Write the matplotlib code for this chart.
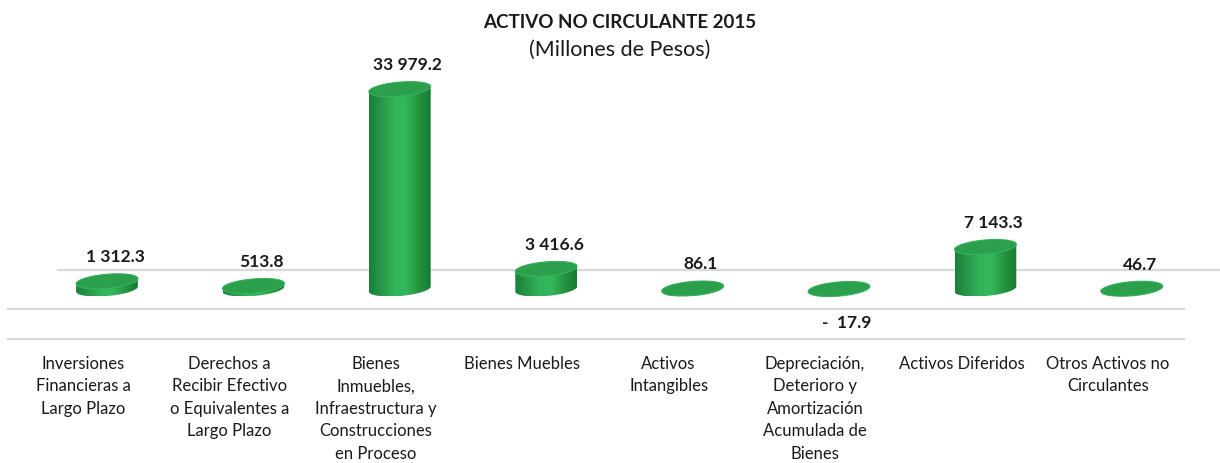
import numpy as np
import matplotlib
matplotlib.use("Agg")
import matplotlib.pyplot as plt
from matplotlib.patches import Polygon
from matplotlib.colors import LinearSegmentedColormap

plt.rcParams['font.family'] = ['Lato', 'DejaVu Sans']

# ---------------- data ----------------
categories = [
    "Inversiones\nFinancieras a\nLargo Plazo",
    "Derechos a\nRecibir Efectivo\no Equivalentes a\nLargo Plazo",
    "Bienes\nInmuebles,\nInfraestructura y\nConstrucciones\nen Proceso",
    "Bienes Muebles",
    "Activos\nIntangibles",
    "Depreciación,\nDeterioro y\nAmortización\nAcumulada de\nBienes",
    "Activos Diferidos",
    "Otros Activos no\nCirculantes",
]
values = [1312.3, 513.8, 33979.2, 3416.6, 86.1, -17.9, 7143.3, 46.7]
value_labels = ["1 312.3", "513.8", "33 979.2", "3 416.6", "86.1", "-  17.9", "7 143.3", "46.7"]
title = "ACTIVO NO CIRCULANTE 2015"
subtitle = "(Millones de Pesos)"

# ---------------- layout ----------------
W, H = 1220, 464
PX_X0, PX_STEP = 83, 146.4       # pixel of first category, pixel step
PX_BASE, UNITS_PER_PX = 290, 170  # pixel of zero line, value units per pixel

fig = plt.figure(figsize=(W / 100, H / 100), dpi=100)
ax = fig.add_axes([0, 0, 1, 1])
xlim = (-PX_X0 / PX_STEP, (W - PX_X0) / PX_STEP)
ylim = (-(H - PX_BASE) * UNITS_PER_PX, PX_BASE * UNITS_PER_PX)

def px_w(p):  # pixel width -> data width
    return np.asarray(p) / PX_STEP

def px_h(p):  # pixel height -> data height
    return np.asarray(p) * UNITS_PER_PX

# gridlines (3D wall/floor lines)
grid_color = "#D9D9D9"
ax.plot([px_w(58 - PX_X0), xlim[1]], [px_h(PX_BASE - 271)] * 2, color=grid_color, lw=1.6, zorder=1)
ax.plot([px_w(8 - PX_X0), px_w(1184 - PX_X0)], [px_h(PX_BASE - 310)] * 2, color=grid_color, lw=1.6, zorder=1)
ax.plot([px_w(8 - PX_X0), px_w(1184 - PX_X0)], [px_h(PX_BASE - 340)] * 2, color=grid_color, lw=1.6, zorder=1)

cmap = LinearSegmentedColormap.from_list(
    "cyl", ["#1B7F38", "#26994A", "#33B45A", "#34B65C", "#24943F", "#1A7A35"])
grad = np.linspace(0, 1, 256).reshape(1, -1)

cyl_off = px_w(24)      # 3D depth shift of cylinders
A, B = 31.0, 7.0        # ellipse semi-axes in pixels
PHI = np.deg2rad(5)     # tilt
lab_off = px_w(8)

def ell_pts(t):
    x = A * np.cos(t) * np.cos(PHI) - B * np.sin(t) * np.sin(PHI)
    y = A * np.cos(t) * np.sin(PHI) + B * np.sin(t) * np.cos(PHI)
    return x, y

tstar = np.arctan2(-B * np.sin(PHI), A * np.cos(PHI))
t_low = np.linspace(tstar + np.pi, tstar + 2 * np.pi, 80)
t_up = np.linspace(tstar, tstar + np.pi, 80)
t_full = np.linspace(0, 2 * np.pi, 160)

x = np.arange(len(values))
for xi, v, lab in zip(x, values, value_labels):
    xc = xi + cyl_off
    lo, hi = min(0, v), max(0, v)
    lx, ly = ell_pts(t_low)
    ux, uy = ell_pts(t_up)
    bx = np.concatenate([xc + px_w(lx), xc + px_w(ux)])
    by = np.concatenate([lo + px_h(ly), hi + px_h(uy)])
    body = Polygon(np.column_stack([bx, by]), closed=True, facecolor="none", edgecolor="none", zorder=2)
    ax.add_patch(body)
    im = ax.imshow(grad, extent=[bx.min(), bx.max(), by.min(), by.max()],
                   aspect="auto", cmap=cmap, zorder=2, interpolation="bicubic")
    im.set_clip_path(body)
    fx, fy = ell_pts(t_full)
    top = Polygon(np.column_stack([xc + px_w(fx), hi + px_h(fy)]), closed=True,
                  facecolor="#2B9F4C", edgecolor="#36B25B", lw=0.8, zorder=3)
    ax.add_patch(top)
    if v >= 0:
        ax.text(xc + lab_off, hi + px_h(25), lab, ha="center", va="center",
                fontsize=12.5, fontweight="bold", color="#1a1a1a")
    else:
        ax.text(xc + lab_off, lo - px_h(33), lab, ha="center", va="center",
                fontsize=12.5, fontweight="bold", color="#1a1a1a")

# category labels
for xi, c in zip(x, categories):
    ax.text(xi, px_h(PX_BASE - 356), c, ha="center", va="top", fontsize=12,
            linespacing=1.50, color="#1a1a1a")

ax.set_xlim(*xlim)
ax.set_ylim(*ylim)
ax.axis("off")

fig.text(620 / W, 1 - 22 / H, title, ha="center", va="center", fontsize=13.5, fontweight="bold", color="#1a1a1a")
fig.text(620 / W, 1 - 50 / H, subtitle, ha="center", va="center", fontsize=15.5, color="#1a1a1a")

fig.savefig("out.png", dpi=100, facecolor="white")
